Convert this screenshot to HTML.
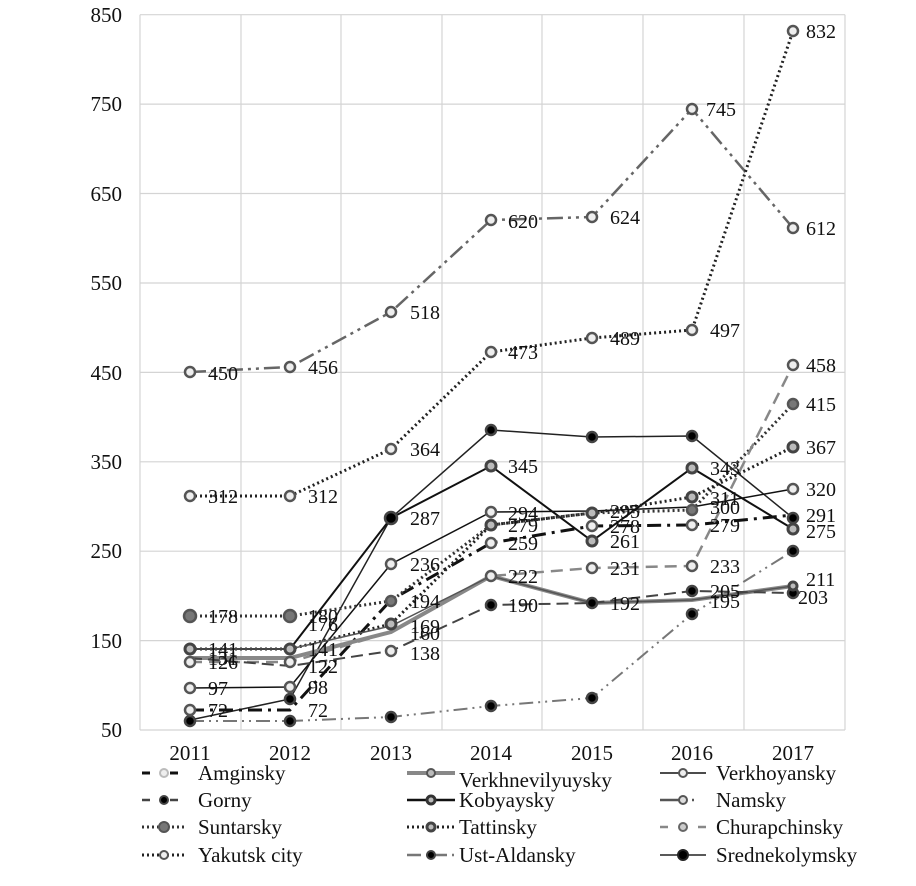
<!DOCTYPE html>
<html><head><meta charset="utf-8"><style>
body{margin:0;background:#fff}
svg{display:block}
text{font-family:"Liberation Serif",serif;fill:#111}
</style></head><body>
<svg width="916" height="886" viewBox="0 0 916 886" xmlns="http://www.w3.org/2000/svg">
<g stroke="#d4d4d4" stroke-width="1.2" fill="none">
<line x1="140" y1="14.7" x2="845" y2="14.7"/><line x1="140" y1="104.1" x2="845" y2="104.1"/>
<line x1="140" y1="193.5" x2="845" y2="193.5"/><line x1="140" y1="283" x2="845" y2="283"/>
<line x1="140" y1="372.4" x2="845" y2="372.4"/><line x1="140" y1="461.8" x2="845" y2="461.8"/>
<line x1="140" y1="551.2" x2="845" y2="551.2"/><line x1="140" y1="640.6" x2="845" y2="640.6"/>
<line x1="140" y1="730" x2="845" y2="730"/>
<line x1="140" y1="14.7" x2="140" y2="730"/><line x1="241" y1="14.7" x2="241" y2="730"/>
<line x1="341" y1="14.7" x2="341" y2="730"/><line x1="442" y1="14.7" x2="442" y2="730"/>
<line x1="542" y1="14.7" x2="542" y2="730"/><line x1="643" y1="14.7" x2="643" y2="730"/>
<line x1="744" y1="14.7" x2="744" y2="730"/><line x1="845" y1="14.7" x2="845" y2="730"/>
</g>
<g font-size="21" text-anchor="end">
<text x="122" y="22">850</text><text x="122" y="111">750</text><text x="122" y="201">650</text>
<text x="122" y="290">550</text><text x="122" y="380">450</text><text x="122" y="469">350</text>
<text x="122" y="558">250</text><text x="122" y="648">150</text><text x="122" y="737">50</text>
</g>
<g font-size="21" text-anchor="middle">
<text x="190" y="760">2011</text><text x="290" y="760">2012</text><text x="391" y="760">2013</text>
<text x="491" y="760">2014</text><text x="592" y="760">2015</text><text x="692" y="760">2016</text><text x="793" y="760">2017</text>
</g>
<g fill="none" stroke-width="2">
<polyline stroke="#777" stroke-dasharray="14,5,2,5,2,5" points="190,721 290,721 391,717 491,706 592,698 692,614 793,551"/>
<polyline stroke="#666" stroke-width="2.5" stroke-dasharray="16,5,3,5,3,5" points="190,372 290,367 391,312 491,220 592,217 692,109 793,228"/>
<polyline stroke="#222" stroke-width="3" stroke-dasharray="2,3" points="190,496 290,496 391,449 491,352 592,338 692,330 793,31"/>
<polyline stroke="#222" stroke-width="1.5" points="190,720 290,699 391,518 491,430 592,437 692,436 793,518"/>
<polyline stroke="#111" stroke-width="2" points="190,649 290,649 391,518 491,466 592,541 692,468 793,529"/>
<polyline stroke="#111" stroke-width="1.5" points="190,688 290,687 391,564 491,512 592,511 692,507 793,489"/>
<polyline stroke="#111" stroke-width="3" stroke-dasharray="14,6,3,6" points="190,710 290,710 391,600 491,543 592,526 692,525 793,515"/>
<polyline stroke="#333" stroke-width="3" stroke-dasharray="2,3" points="190,616 290,616 391,601 491,525 592,513 692,510 793,404"/>
<polyline stroke="#222" stroke-width="3" stroke-dasharray="2,3" points="190,649 290,649 391,624 491,525 592,513 692,497 793,447"/>
<polyline stroke="#888" stroke-width="2.5" stroke-dasharray="12,7" points="190,662 290,662 391,632 491,576 592,568 692,566 793,365"/>
<polyline stroke="#888" stroke-width="4" points="190,658 290,658 391,632 491,576 592,603 692,600 793,586"/>
<polyline stroke="#555" stroke-width="1.5" points="190,649 290,649 391,626 491,576 592,603 692,600 793,586"/>
<polyline stroke="#444" stroke-width="2" stroke-dasharray="12,6" points="190,658 290,666 391,651 491,605 592,603 692,591 793,593"/>
</g>
<g stroke-width="2.5">
<g fill="#000" stroke="#444"><circle cx="190" cy="721" r="5"/><circle cx="290" cy="721" r="5"/><circle cx="391" cy="717" r="5"/><circle cx="491" cy="706" r="5"/><circle cx="592" cy="698" r="5"/><circle cx="692" cy="614" r="5"/><circle cx="793" cy="551" r="5"/>
<circle cx="290" cy="699" r="5"/><circle cx="391" cy="518" r="6"/><circle cx="491" cy="430" r="5"/><circle cx="592" cy="437" r="5"/><circle cx="692" cy="436" r="5"/><circle cx="793" cy="518" r="5"/>
<circle cx="491" cy="605" r="5"/><circle cx="592" cy="603" r="5"/><circle cx="692" cy="591" r="5"/><circle cx="793" cy="593" r="5"/></g>
<g fill="#eee" stroke="#555"><circle cx="190" cy="372" r="5"/><circle cx="290" cy="367" r="5"/><circle cx="391" cy="312" r="5"/><circle cx="491" cy="220" r="5"/><circle cx="592" cy="217" r="5"/><circle cx="692" cy="109" r="5"/><circle cx="793" cy="228" r="5"/>
<circle cx="190" cy="496" r="5"/><circle cx="290" cy="496" r="5"/><circle cx="391" cy="449" r="5"/><circle cx="491" cy="352" r="5"/><circle cx="592" cy="338" r="5"/><circle cx="692" cy="330" r="5"/><circle cx="793" cy="31" r="5"/>
<circle cx="190" cy="688" r="5"/><circle cx="290" cy="687" r="5"/><circle cx="391" cy="564" r="5"/><circle cx="491" cy="512" r="5"/><circle cx="793" cy="489" r="5"/>
<circle cx="190" cy="662" r="5"/><circle cx="290" cy="662" r="5"/><circle cx="491" cy="576" r="5"/><circle cx="592" cy="568" r="5"/><circle cx="692" cy="566" r="5"/><circle cx="793" cy="365" r="5"/>
<circle cx="190" cy="710" r="5"/><circle cx="491" cy="543" r="5"/><circle cx="592" cy="526" r="5"/><circle cx="692" cy="525" r="5"/><circle cx="391" cy="651" r="5"/></g>
<g fill="#777" stroke="#555"><circle cx="190" cy="616" r="6"/><circle cx="290" cy="616" r="6"/><circle cx="391" cy="601" r="5"/><circle cx="793" cy="404" r="5"/><circle cx="692" cy="510" r="5"/></g>
<g fill="#bbb" stroke="#444" stroke-width="3"><circle cx="190" cy="649" r="5"/><circle cx="290" cy="649" r="5"/><circle cx="491" cy="466" r="5"/><circle cx="592" cy="541" r="5"/><circle cx="692" cy="468" r="5"/><circle cx="793" cy="529" r="5"/><circle cx="793" cy="447" r="5"/><circle cx="692" cy="497" r="5"/><circle cx="491" cy="525" r="5"/><circle cx="391" cy="624" r="5"/><circle cx="592" cy="513" r="5"/><circle cx="793" cy="586" r="4"/></g>
</g>
<g font-size="20">
<text x="806" y="38">832</text><text x="706" y="116">745</text><text x="806" y="235">612</text>
<text x="508" y="228">620</text><text x="610" y="224">624</text><text x="410" y="319">518</text>
<text x="208" y="380">450</text><text x="308" y="374">456</text>
<text x="208" y="503">312</text><text x="308" y="503">312</text><text x="410" y="456">364</text>
<text x="508" y="359">473</text><text x="610" y="345">489</text><text x="710" y="337">497</text>
<text x="806" y="372">458</text><text x="806" y="411">415</text><text x="806" y="454">367</text>
<text x="806" y="496">320</text><text x="806" y="522">291</text><text x="806" y="538">275</text>
<text x="806" y="586">211</text><text x="798" y="604">203</text>
<text x="508" y="473">345</text><text x="710" y="475">343</text><text x="610" y="548">261</text>
<text x="410" y="525">287</text><text x="410" y="571">236</text><text x="410" y="608">194</text>
<text x="410" y="633">169</text><text x="410" y="640">160</text><text x="410" y="660">138</text>
<text x="508" y="520">294</text><text x="508" y="532">279</text><text x="508" y="550">259</text>
<text x="508" y="583">222</text><text x="508" y="612">190</text>
<text x="610" y="518">295</text><text x="610" y="533">278</text><text x="610" y="575">231</text><text x="610" y="610">192</text>
<text x="710" y="505">311</text><text x="710" y="514">300</text><text x="710" y="532">279</text>
<text x="710" y="573">233</text><text x="710" y="598">205</text><text x="710" y="608">195</text>
<text x="208" y="623">178</text><text x="308" y="623">180</text><text x="308" y="631">176</text>
<text x="208" y="656">141</text><text x="208" y="665">131</text><text x="208" y="669">126</text>
<text x="308" y="656">141</text><text x="308" y="673">122</text>
<text x="208" y="695">97</text><text x="308" y="694">98</text>
<text x="208" y="717">72</text><text x="308" y="717">72</text>
</g>
<g fill="none" stroke-width="2.5">
<line x1="142" y1="773" x2="186" y2="773" stroke="#111" stroke-width="3" stroke-dasharray="8,20,8"/>
<line x1="142" y1="800" x2="186" y2="800" stroke="#444" stroke-dasharray="8,20,8"/>
<line x1="142" y1="827" x2="186" y2="827" stroke="#333" stroke-width="3" stroke-dasharray="2,3"/>
<line x1="142" y1="855" x2="186" y2="855" stroke="#222" stroke-width="3" stroke-dasharray="2,3"/>
<line x1="407" y1="773" x2="455" y2="773" stroke="#888" stroke-width="4"/>
<line x1="407" y1="800" x2="455" y2="800" stroke="#111"/>
<line x1="407" y1="827" x2="455" y2="827" stroke="#222" stroke-width="3" stroke-dasharray="2,3"/>
<line x1="407" y1="855" x2="455" y2="855" stroke="#777" stroke-dasharray="14,5,2,5"/>
<line x1="660" y1="773" x2="706" y2="773" stroke="#111" stroke-width="1.5"/>
<line x1="660" y1="800" x2="706" y2="800" stroke="#555" stroke-dasharray="26,6,2,40"/>
<line x1="660" y1="827" x2="706" y2="827" stroke="#888" stroke-dasharray="8,30,8"/>
<line x1="660" y1="855" x2="706" y2="855" stroke="#222" stroke-width="1.5"/>
</g>
<g stroke-width="2">
<circle cx="164" cy="773" r="4" fill="#eee" stroke="#bbb"/><circle cx="164" cy="800" r="4" fill="#000" stroke="#444"/>
<circle cx="164" cy="827" r="5" fill="#777" stroke="#555"/><circle cx="164" cy="855" r="4" fill="#eee" stroke="#555"/>
<circle cx="431" cy="773" r="4" fill="#bbb" stroke="#555"/><circle cx="431" cy="800" r="4" fill="#bbb" stroke="#333" stroke-width="3"/>
<circle cx="431" cy="827" r="4" fill="#bbb" stroke="#444" stroke-width="3"/><circle cx="431" cy="855" r="4" fill="#000" stroke="#444"/>
<circle cx="683" cy="773" r="4" fill="#eee" stroke="#555"/><circle cx="683" cy="800" r="4" fill="#ddd" stroke="#555"/>
<circle cx="683" cy="827" r="4" fill="#ccc" stroke="#666"/><circle cx="683" cy="855" r="5" fill="#000" stroke="#222"/>
</g>
<g font-size="21">
<text x="198" y="780">Amginsky</text><text x="198" y="807">Gorny</text><text x="198" y="834">Suntarsky</text><text x="198" y="862">Yakutsk city</text>
<text x="459" y="787">Verkhnevilyuysky</text><text x="459" y="807">Kobyaysky</text><text x="459" y="834">Tattinsky</text><text x="459" y="862">Ust-Aldansky</text>
<text x="716" y="780">Verkhoyansky</text><text x="716" y="807">Namsky</text><text x="716" y="834">Churapchinsky</text><text x="716" y="862">Srednekolymsky</text>
</g>
</svg>
</body></html>
